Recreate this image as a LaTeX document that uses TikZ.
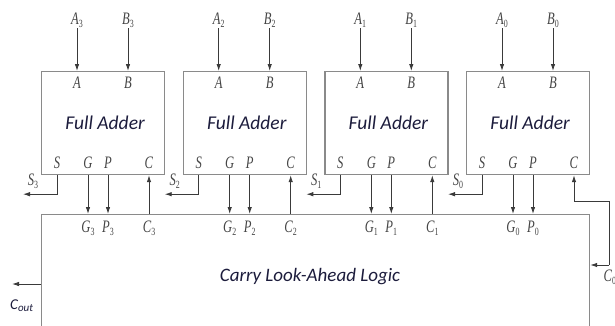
\documentclass[tikz,border=0pt]{standalone}
\usepackage{fontspec}
\setmainfont{Liberation Serif}
\newfontfamily\portfont[FakeStretch=0.72]{Liberation Serif}
\newfontfamily\blockfont{Carlito}
\usetikzlibrary{calc,arrows.meta}

\definecolor{boxgray}{HTML}{8A8A8A}
\definecolor{wire}{HTML}{3A3A3A}
\definecolor{portink}{HTML}{454545}
\definecolor{blockink}{HTML}{1C1C3C}

% port name with a small index
\newcommand\portname[2]{\textit{#1}\raisebox{-0.4ex}{\fontsize{11}{11}\selectfont #2}}

\tikzset{
  fabox/.style={rectangle, draw=boxgray, line width=1.2pt, inner sep=0pt,
    anchor=north west, minimum width=123pt, minimum height=103pt,
    font=\blockfont\itshape\fontsize{19.5}{20}\selectfont, text=blockink},
  clabox/.style={rectangle, draw=boxgray, line width=1.2pt, inner sep=0pt,
    anchor=north west, minimum width=548pt, minimum height=150pt},
  lbl/.style={inner sep=0.5pt, text=portink, font=\portfont\fontsize{17.5}{17.5}\selectfont},
  sig/.style={draw=wire, line width=0.9pt, -{Latex[length=7pt,width=4.5pt]}},
}

\begin{document}
\begin{tikzpicture}[x=1pt,y=-1pt]
\useasboundingbox (0,0) rectangle (615,325);
\clip (0,0) rectangle (615,325);

% carry look-ahead block (runs off the lower edge)
\node[clabox] (cla) at (41,214) {};
\node[font=\blockfont\itshape\fontsize{19}{20}\selectfont, text=blockink] (clatext) at (310,277) {Carry Look-Ahead Logic};

% four full adder stages
\foreach \i/\L in {3/41, 2/182.7, 1/324.3, 0/466} {
  \node[fabox] (fa\i) at (\L,71) {\raisebox{-3pt}{\hspace*{4pt}Full Adder}};
  % ports on the top edge
  \coordinate (a\i) at ($(fa\i.north west)+(36,0)$);
  \coordinate (b\i) at ($(fa\i.north west)+(87,0)$);
  % ports on the bottom edge
  \coordinate (s\i) at ($(fa\i.south west)+(16,0)$);
  \coordinate (g\i) at ($(fa\i.south west)+(47,0)$);
  \coordinate (p\i) at ($(fa\i.south west)+(67,0)$);
  \coordinate (c\i) at ($(fa\i.south west)+(108,0)$);
  % inputs
  \node[lbl] (ain\i) at ($(a\i)+(0,-51)$) {\portname{A}{\i}};
  \node[lbl] (bin\i) at ($(b\i)+(0,-51)$) {\portname{B}{\i}};
  \draw[sig] (ain\i) -- (a\i);
  \draw[sig] (bin\i) -- (b\i);
  \node[lbl] (pa\i) at ($(a\i)+(0,12)$) {\textit{A}};
  \node[lbl] (pb\i) at ($(b\i)+(0,12)$) {\textit{B}};
  % bottom port names
  \node[lbl] (ps\i) at ($(s\i)+(0,-12)$) {\textit{S}};
  \node[lbl] (pg\i) at ($(g\i)+(0,-12)$) {\textit{G}};
  \node[lbl] (pp\i) at ($(p\i)+(0,-12)$) {\textit{P}};
  \node[lbl] (pc\i) at ($(c\i)+(0,-12)$) {\textit{C}};
  % sum output
  \coordinate (so\i) at ($(s\i)+(-34,19)$);
  \draw[sig] (s\i) |- (so\i);
  \node[lbl] (sl\i) at ($(s\i)+(-24,6)$) {\portname{S}{\i}};
  % generate / propagate into the carry logic
  \draw[sig] (g\i) -- (g\i |- cla.north);
  \draw[sig] (p\i) -- (p\i |- cla.north);
  \node[lbl] (gl\i) at ($(g\i |- cla.north)+(0,14)$) {\portname{G}{\i}};
  \node[lbl] (pl\i) at ($(p\i |- cla.north)+(0,14)$) {\portname{P}{\i}};
}

% carries from the carry logic back to the stages
\foreach \i in {3,2,1} {
  \draw[sig] (c\i |- cla.north) -- (c\i);
  \node[lbl] (cl\i) at ($(c\i |- cla.north)+(0,14)$) {\portname{C}{\i}};
}

% carry in: fed to stage 0 and to the carry logic
\coordinate (cinA) at (609,201);
\coordinate (cinB) at (609,265);
\draw[sig] (cinB) -- (cla.east |- cinB);
\draw[sig] (cinB) -- (cinA) -- (c0 |- cinA) -- (c0);
\node[lbl, anchor=west] (cinl) at (603,277) {\portname{C}{0}};

% carry out
\coordinate (cout) at (12,284);
\draw[sig] (cla.west |- cout) -- (cout);
\node[anchor=base west, inner sep=0pt, text=blockink, font=\blockfont\itshape\fontsize{15}{15}\selectfont] (coutl) at (10,309) {C\raisebox{-0.3ex}{\fontsize{11}{11}\selectfont out}};
\end{tikzpicture}
\end{document}
